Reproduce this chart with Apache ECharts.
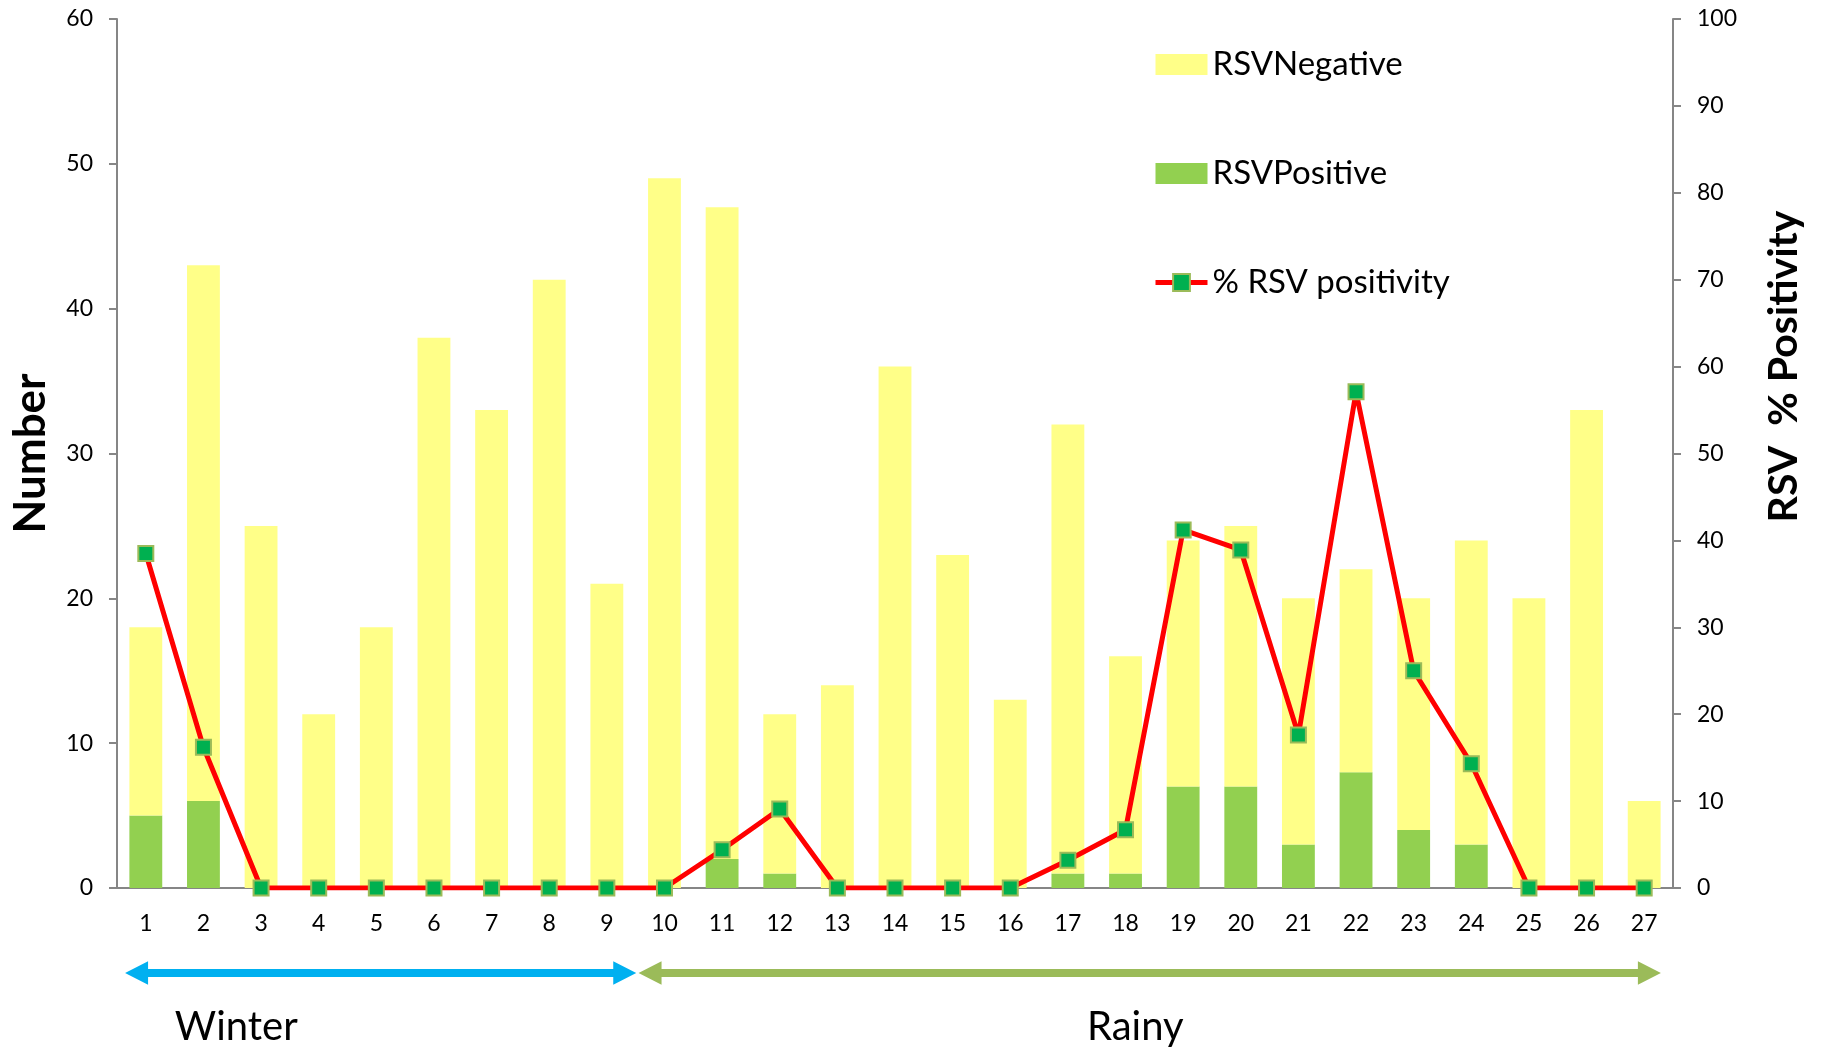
<!DOCTYPE html>
<html><head><meta charset="utf-8">
<script src="https://cdn.jsdelivr.net/npm/echarts@6/dist/echarts.min.js"></script>
<style>html,body{margin:0;padding:0;background:#fff}#c{width:1825px;height:1047px}</style>
</head><body><div id="c"></div>
<script>
const categories = ['1','2','3','4','5','6','7','8','9','10','11','12','13','14','15','16','17','18','19','20','21','22','23','24','25','26','27'];
const rsvPositive = [5,6,0,0,0,0,0,0,0,0,2,1,0,0,0,0,1,1,7,7,3,8,4,3,0,0,0];
const rsvNegative = [13,37,25,12,18,38,33,42,21,49,45,11,14,36,23,13,31,15,17,18,17,14,16,21,20,33,6];
const rsvPositivity = [38.5,16.2,0,0,0,0,0,0,0,0,4.4,9.1,0,0,0,0,3.2,6.7,41.2,38.9,17.6,57.1,25,14.3,0,0,0];
const seasons = [
  {name:'Winter', from:-0.36, to:8.51, label:1.57, color:'#00B0F0'},
  {name:'Rainy', from:8.55, to:26.29, label:17.17, color:'#9BBB59'}
];
const FONT = 'Lato';
const chart = echarts.init(document.getElementById('c'), null, {renderer:'canvas'});
const axisGray = '#868686';
chart.setOption({
  animation:false,
  backgroundColor:'#ffffff',
  textStyle:{fontFamily:FONT},
  grid:{left:117, right:152, top:19, bottom:159},
  legend:{
    orient:'vertical', left:1148, top:43, itemWidth:52, itemHeight:21, itemGap:76,
    textStyle:{fontFamily:FONT, fontSize:33, color:'#000', lineHeight:33},
    data:[
      {name:'RSVNegative', icon:'rect'},
      {name:'RSVPositive', icon:'rect'},
      {name:'% RSV positivity', lineStyle:{width:5, color:'#FF0000'}}
    ]
  },
  xAxis:{
    type:'category', data:categories,
    axisLine:{lineStyle:{color:axisGray, width:2}},
    axisTick:{show:false},
    axisLabel:{fontFamily:FONT, fontSize:23, color:'#000', margin:24}
  },
  yAxis:[
    {type:'value', min:0, max:60, interval:10, name:'Number', nameLocation:'middle', nameGap:64,
     nameTextStyle:{fontFamily:FONT, fontSize:44, fontWeight:'bold', color:'#000'},
     axisLine:{show:true, lineStyle:{color:axisGray, width:2}},
     axisTick:{show:true, length:8, lineStyle:{color:axisGray, width:2}},
     splitLine:{show:false},
     axisLabel:{fontFamily:FONT, fontSize:23, color:'#000', margin:24}},
    {type:'value', min:0, max:100, interval:10, name:'RSV  % Positivity', nameLocation:'middle', nameGap:90,
     nameTextStyle:{fontFamily:FONT, fontSize:41, fontWeight:'bold', color:'#000', padding:[0,0,0,174]},
     axisLine:{show:true, lineStyle:{color:axisGray, width:2}},
     axisTick:{show:true, length:8, lineStyle:{color:axisGray, width:2}},
     splitLine:{show:false},
     axisLabel:{fontFamily:FONT, fontSize:23, color:'#000', margin:24}}
  ],
  series:[
    {name:'RSVPositive', type:'bar', stack:'rsv', data:rsvPositive, barCategoryGap:'43%',
     itemStyle:{color:'#92D050'}},
    {name:'RSVNegative', type:'bar', stack:'rsv', data:rsvNegative,
     itemStyle:{color:'#FFFF88'}},
    {name:'% RSV positivity', type:'line', yAxisIndex:1, data:rsvPositivity, z:5,
     symbol:'rect', symbolSize:15, showAllSymbol:true,
     lineStyle:{color:'#FF0000', width:5},
     itemStyle:{color:'#00B050', borderColor:'#9BBB59', borderWidth:2}}
  ]
});

function arrowPoints(x1, x2, y){
  const hl = 23, hw = 11.7, sw = 4;
  return [[x1,y],[x1+hl,y-hw],[x1+hl,y-sw],[x2-hl,y-sw],[x2-hl,y-hw],[x2,y],
          [x2-hl,y+hw],[x2-hl,y+sw],[x1+hl,y+sw],[x1+hl,y+hw]];
}
const p0 = chart.convertToPixel({xAxisIndex:0}, 0);
const p1 = chart.convertToPixel({xAxisIndex:0}, 1);
const step = p1 - p0;
const xAt = v => p0 + v * step;
const base = chart.convertToPixel({yAxisIndex:0}, 0);
const graphics = [];
seasons.forEach(s => {
  graphics.push({type:'polygon', shape:{points:arrowPoints(xAt(s.from), xAt(s.to), base + 85)},
    style:{fill:s.color}});
  graphics.push({type:'text', x:xAt(s.label), y:base + 139,
    style:{text:s.name, font:'40px ' + FONT, fill:'#000', textAlign:'center', textVerticalAlign:'middle'}});
});
chart.setOption({graphic:graphics});
</script></body></html>
